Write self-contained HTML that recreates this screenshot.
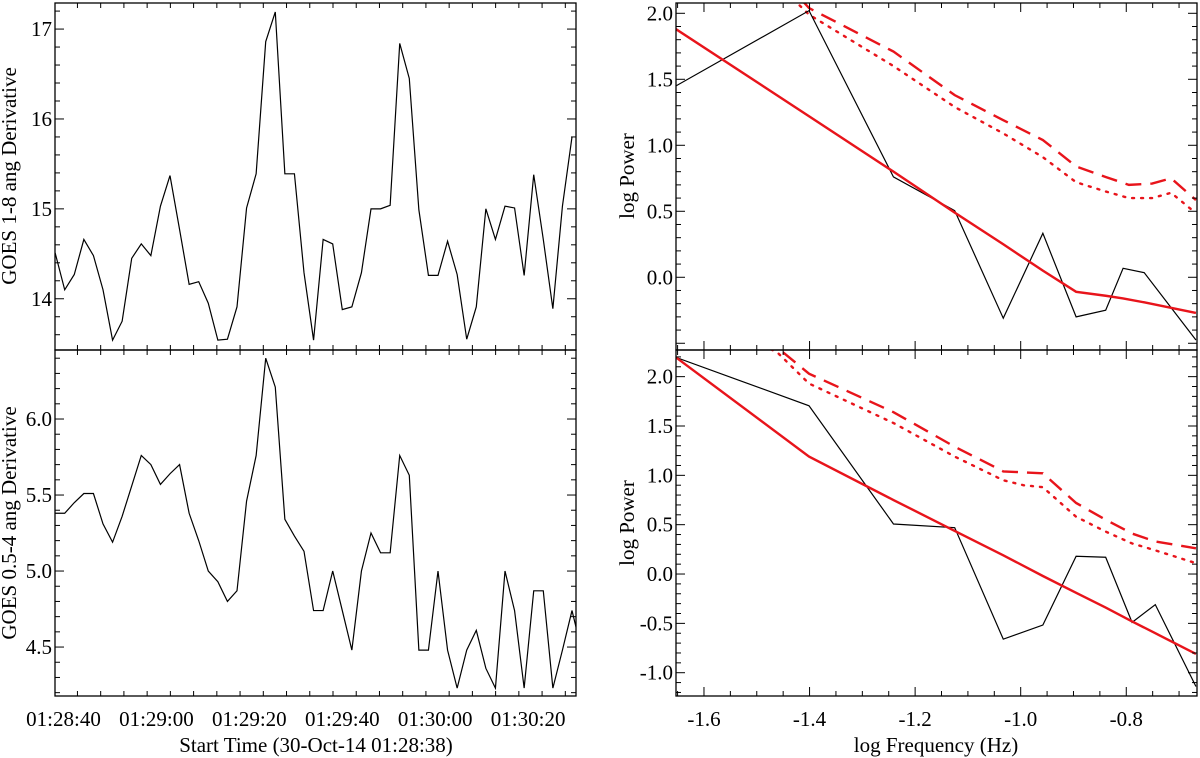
<!DOCTYPE html>
<html><head><meta charset="utf-8"><style>
html,body{margin:0;padding:0;background:#fff}
svg{display:block}
text{font-family:"Liberation Serif",serif;fill:#000}
</style></head><body>
<svg id="c" width="1200" height="758" viewBox="0 0 1200 758" xmlns="http://www.w3.org/2000/svg"></svg>
<script>
// ---- data ----
const soft = [14.51,14.10,14.27,14.66,14.48,14.10,13.54,13.75,14.45,14.61,14.48,15.03,15.37,14.77,14.16,14.19,13.95,13.54,13.55,13.91,15.01,15.39,16.86,17.19,15.39,15.39,14.29,13.54,14.66,14.61,13.88,13.91,14.29,15.00,15.00,15.04,16.84,16.45,14.99,14.26,14.26,14.64,14.27,13.55,13.91,15.00,14.66,15.03,15.01,14.26,15.38,14.66,13.89,15.03,15.80];
const hard = [5.38,5.38,5.45,5.51,5.51,5.31,5.19,5.36,5.56,5.76,5.70,5.57,5.64,5.70,5.38,5.20,5.00,4.93,4.80,4.87,5.46,5.76,6.40,6.21,5.34,5.23,5.13,4.74,4.74,5.00,4.74,4.48,5.00,5.25,5.12,5.12,5.76,5.63,4.48,4.48,5.00,4.48,4.23,4.48,4.61,4.36,4.23,5.00,4.74,4.23,4.87,4.87,4.23,4.48,4.74,4.48];
const timeStart = 0.2, timeStep = 2.06; // seconds after 01:28:38
const timeTicks = [2,22,42,62,82,102];
const timeLabels = ["01:28:40","01:29:00","01:29:20","01:29:40","01:30:00","01:30:20"];

const f1 = [-1.653,-1.401,-1.241,-1.125,-1.033,-0.958,-0.895,-0.839,-0.806,-0.766,-0.668];
const p1 = [1.45,2.02,0.76,0.505,-0.31,0.333,-0.30,-0.25,0.068,0.035,-0.475];
const fit1 = [1.88,1.22,0.80,0.49,0.25,0.05,-0.11,-0.14,-0.16,-0.19,-0.27];
const cf1 = [-1.653,-1.46,-1.401,-1.241,-1.125,-1.033,-0.958,-0.895,-0.839,-0.795,-0.751,-0.715,-0.668];
const dash1 = [2.7,2.3,2.04,1.71,1.38,1.19,1.04,0.84,0.76,0.70,0.71,0.75,0.585];
const dot1 = [2.6,2.22,1.99,1.60,1.29,1.09,0.91,0.72,0.65,0.60,0.60,0.64,0.485];

const f2 = [-1.653,-1.401,-1.241,-1.125,-1.033,-0.958,-0.895,-0.839,-0.789,-0.745,-0.668];
const p2 = [2.195,1.705,0.507,0.47,-0.66,-0.517,0.18,0.17,-0.49,-0.31,-1.14];
const fit2 = [2.195,1.19,0.75,0.437,0.19,-0.02,-0.19,-0.34,-0.48,-0.60,-0.81];
const cf2 = [-1.653,-1.46,-1.401,-1.241,-1.125,-1.033,-0.995,-0.958,-0.895,-0.839,-0.789,-0.745,-0.668];
const dash2 = [2.9,2.29,2.03,1.64,1.29,1.04,1.03,1.02,0.72,0.55,0.41,0.33,0.26];
const dot2 = [2.8,2.24,1.93,1.53,1.19,0.95,0.90,0.88,0.58,0.43,0.31,0.24,0.11];

const freqTicks = [-1.6,-1.4,-1.2,-1.0,-0.8];
const freqLabels = ["-1.6","-1.4","-1.2","-1.0","-0.8"];

// ---- helpers ----
const svg = document.getElementById('c');
const NS = 'http://www.w3.org/2000/svg';
function mk(tag, attrs, parent){const e=document.createElementNS(NS,tag);for(const k in attrs)e.setAttribute(k,attrs[k]);(parent||svg).appendChild(e);return e;}
function lin(d0,d1,r0,r1){return v=>r0+(v-d0)/(d1-d0)*(r1-r0);}
function ticks(lo,hi,step){const out=[];const s=Math.ceil(lo/step-1e-6);for(let k=s;k*step<=hi+1e-9;k++)out.push(+(k*step).toFixed(6));return out;}

function panel(name, box, xd, yd, opt){
  const g = mk('g',{});
  
  
  const X = lin(xd[0],xd[1],box.x0,box.x1), Y = lin(yd[0],yd[1],box.y1,box.y0);
  const cid = 'clip-'+name;
  const cp = mk('clipPath',{id:cid},g); mk('rect',{x:box.x0,y:box.y0,width:box.x1-box.x0,height:box.y1-box.y0},cp);
  const plot = mk('g',{'clip-path':'url(#'+cid+')'},g);
  ticks(yd[0],yd[1],opt.yMinor).forEach(v=>{
    const maj = Math.abs(v/opt.yMajor-Math.round(v/opt.yMajor))<1e-6;
    const L = maj?9:5, y=Y(v);
    mk('line',{x1:box.x0,y1:y,x2:box.x0+L,y2:y,stroke:'#000','stroke-width':1},g);
    mk('line',{x1:box.x1,y1:y,x2:box.x1-L,y2:y,stroke:'#000','stroke-width':1},g);
    if(maj && opt.yFmt && y>box.y0+6 && y<box.y1-10){
      const t = mk('text',{x:box.x0-3,y:y+7,'text-anchor':'end','font-size':21},g);
      t.textContent = opt.yFmt(v);
      
      
    }
  });
  ticks(xd[0],xd[1],opt.xMinor).forEach(v=>{
    const maj = opt.xMajorList.some(m=>Math.abs(m-v)<1e-6);
    const L = maj?9:5, x=X(v);
    mk('line',{x1:x,y1:box.y1,x2:x,y2:box.y1-L,stroke:'#000','stroke-width':1},g);
    mk('line',{x1:x,y1:box.y0,x2:x,y2:box.y0+L,stroke:'#000','stroke-width':1},g);
  });
  mk('rect',{x:box.x0,y:box.y0,width:box.x1-box.x0,height:box.y1-box.y0,fill:'none',stroke:'#000','stroke-width':1.3},g);
  return {X,Y,plot,g};
}
function line(p, xs, ys, style, name){
  const d = xs.map((x,i)=>(i?'L':'M')+p.X(x).toFixed(2)+','+p.Y(ys[i]).toFixed(2)).join('');
  const e = mk('path',Object.assign({d:d,fill:'none'},style),p.plot);
  
  
}

// ---- left panels ----
const tDom = [0.17,112.3];
const tMajor = ticks(0,120,20).map(v=>v+2);
const lt = panel('soft-xray-panel',{x0:55,x1:576,y0:3,y1:350},tDom,[13.43,17.29],{yMinor:0.2,yMajor:1,yFmt:v=>String(Math.round(v)),xMinor:5,xMajorList:tMajor});
line(lt, soft.map((_,i)=>timeStart+i*timeStep), soft, {stroke:'#000','stroke-width':1.2}, 'soft-xray-derivative-line');
const lb = panel('hard-xray-panel',{x0:55,x1:576,y0:350,y1:696},tDom,[4.178,6.454],{yMinor:0.1,yMajor:0.5,yFmt:v=>v.toFixed(1),xMinor:5,xMajorList:tMajor});
line(lb, hard.map((_,i)=>timeStart+i*timeStep), hard, {stroke:'#000','stroke-width':1.2}, 'hard-xray-derivative-line');
timeTicks.forEach((v,i)=>{
  const t = mk('text',{x:lb.X(v),y:726,'text-anchor':'middle','font-size':21});
  t.textContent = timeLabels[i];
  
  
});

// ---- right panels ----
const fDom = [-1.653,-0.666];
const rt = panel('spectrum-top-panel',{x0:676,x1:1197,y0:3,y1:350},fDom,[-0.551,2.078],{yMinor:0.1,yMajor:0.5,yFmt:v=>v.toFixed(1),xMinor:0.05,xMajorList:freqTicks});
line(rt, cf1, dot1, {stroke:'#e8141b','stroke-width':2.4,'stroke-dasharray':'2 7','stroke-linecap':'round'}, 'confidence-95-dotted');
line(rt, cf1, dash1, {stroke:'#e8141b','stroke-width':2.4,'stroke-dasharray':'16 9'}, 'confidence-99-dashed');
line(rt, f1, p1, {stroke:'#000','stroke-width':1.2}, 'power-spectrum-line');
line(rt, f1, fit1, {stroke:'#e8141b','stroke-width':2.4}, 'power-law-fit');
const rb = panel('spectrum-bottom-panel',{x0:676,x1:1197,y0:350,y1:696},fDom,[-1.236,2.27],{yMinor:0.1,yMajor:0.5,yFmt:v=>v.toFixed(1),xMinor:0.05,xMajorList:freqTicks});
line(rb, cf2, dot2, {stroke:'#e8141b','stroke-width':2.4,'stroke-dasharray':'2 7','stroke-linecap':'round'}, 'confidence-95-dotted');
line(rb, cf2, dash2, {stroke:'#e8141b','stroke-width':2.4,'stroke-dasharray':'16 9'}, 'confidence-99-dashed');
line(rb, f2, p2, {stroke:'#000','stroke-width':1.2}, 'power-spectrum-line');
line(rb, f2, fit2, {stroke:'#e8141b','stroke-width':2.4}, 'power-law-fit');
freqTicks.forEach((v,i)=>{
  const t = mk('text',{x:rb.X(v),y:726,'text-anchor':'middle','font-size':21});
  t.textContent = freqLabels[i];
  
  
});

// ---- axis titles ----
function title(txt,x,y,rot,name){
  const t = mk('text',{x:x,y:y,'text-anchor':'middle','font-size':21,transform:rot?'rotate(-90 '+x+' '+y+')':''});
  t.textContent = txt;
  
  
}
title('GOES 1-8 ang Derivative',16,176,true,'soft-y-axis-title');
title('GOES 0.5-4 ang Derivative',16,523,true,'hard-y-axis-title');
title('log Power',634,176,true,'top-right-y-axis-title');
title('log Power',634,523,true,'bottom-right-y-axis-title');
title('Start Time (30-Oct-14 01:28:38)',316,752,false,'time-x-axis-title');
title('log Frequency (Hz)',936,752,false,'freq-x-axis-title');
</script>
</body></html>
